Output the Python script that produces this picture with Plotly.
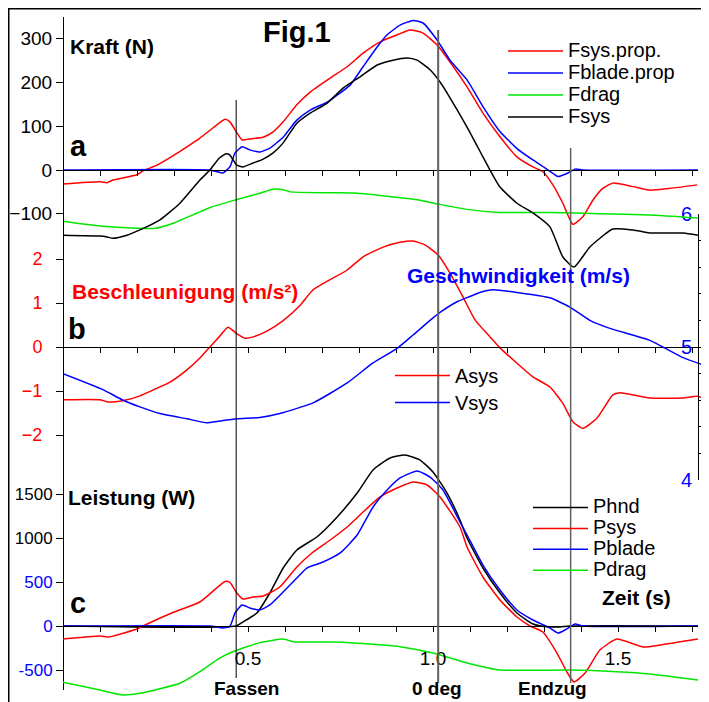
import plotly.graph_objects as go

FONT = "Liberation Sans, Arial, sans-serif"
RED, BLUE, GREEN, BLACK = "#ff0000", "#0000ff", "#00e600", "#000000"

# ---------------- data: panel a (force, N) ----------------
t_fsysprop = [0.000, 0.100, 0.119, 0.135, 0.200, 0.216, 0.254, 0.300, 0.335, 0.370, 0.405, 0.438, 0.451, 0.470,
              0.484, 0.505, 0.541, 0.568, 0.595, 0.632, 0.668, 0.722, 0.768, 0.811, 0.857, 0.903, 0.938, 0.973,
              1.011, 1.046, 1.092, 1.135, 1.181, 1.227, 1.270, 1.297, 1.324, 1.351, 1.378, 1.405, 1.432, 1.459,
              1.486, 1.541, 1.586, 1.641, 1.714]
fsysprop = [-32, -27, -29, -23, -11, -2, 11, 34, 53, 73, 96, 116, 110, 85,
            69, 71, 75, 87, 110, 149, 178, 210, 236, 267, 293, 309, 320, 313,
            286, 247, 190, 130, 76, 30, 7, -4, -34, -76, -124, -107, -69, -42,
            -30, -38, -46, -42, -34]

t_fblade = [0.000, 0.397, 0.416, 0.432, 0.451, 0.465, 0.484, 0.505, 0.532, 0.559, 0.595, 0.632, 0.668, 0.714,
            0.741, 0.776, 0.811, 0.849, 0.876, 0.911, 0.946, 0.973, 1.011, 1.046, 1.092, 1.135, 1.181, 1.227,
            1.270, 1.297, 1.316, 1.338, 1.362, 1.384, 1.405, 1.716]
fblade = [0, 0, -4, -7, 7, 39, 53, 46, 41, 50, 75, 114, 137, 155,
          171, 194, 236, 281, 309, 331, 342, 336, 297, 251, 206, 145, 88, 49,
          23, 8, -3, -15, -8, 2, 0, 0]

t_fdrag = [0.000, 0.100, 0.200, 0.250, 0.300, 0.400, 0.468, 0.532, 0.568, 0.595, 0.614, 0.730, 0.797, 0.957,
           1.014, 1.092, 1.181, 1.316, 1.451, 1.586, 1.716]
fdrag = [-117, -128, -133, -133, -121, -85, -68, -53, -44, -45, -50, -52, -53, -68,
         -78, -90, -97, -97, -100, -103, -110]

t_fsys = [0.000, 0.100, 0.119, 0.135, 0.173, 0.208, 0.262, 0.316, 0.370, 0.397, 0.422, 0.441, 0.451, 0.470,
          0.486, 0.514, 0.541, 0.568, 0.595, 0.632, 0.668, 0.714, 0.757, 0.803, 0.849, 0.892, 0.930, 0.957,
          0.992, 1.019, 1.046, 1.092, 1.135, 1.154, 1.181, 1.227, 1.270, 1.316, 1.351, 1.381, 1.424, 1.486,
          1.541, 1.586, 1.676, 1.716]
fsys = [-149, -151, -153, -156, -149, -137, -114, -76, -23, 0, 27, 37, 34, 11,
        7, 16, 25, 39, 62, 107, 130, 153, 187, 213, 240, 251, 256, 251,
        229, 201, 165, 98, 30, 0, -39, -76, -98, -130, -199, -222, -176, -135,
        -137, -144, -144, -149]

# ---------------- data: panel b (acceleration m/s², velocity m/s) ----------------
t_asys = [0.000, 0.100, 0.122, 0.135, 0.173, 0.208, 0.243, 0.289, 0.335, 0.370, 0.397, 0.422, 0.446, 0.470,
          0.492, 0.514, 0.551, 0.595, 0.641, 0.676, 0.768, 0.811, 0.865, 0.911, 0.946, 0.978, 1.014, 1.046,
          1.081, 1.114, 1.154, 1.181, 1.227, 1.270, 1.316, 1.351, 1.378, 1.405, 1.443, 1.486, 1.505, 1.586,
          1.676, 1.714, 1.746]
asys = [-1.20, -1.20, -1.25, -1.25, -1.20, -1.11, -0.98, -0.80, -0.52, -0.25, 0.0, 0.23, 0.45, 0.30,
        0.20, 0.23, 0.36, 0.60, 0.95, 1.30, 1.75, 2.05, 2.27, 2.38, 2.41, 2.32, 2.09, 1.68,
        1.14, 0.61, 0.23, -0.02, -0.37, -0.68, -0.91, -1.28, -1.70, -1.85, -1.62, -1.09, -1.04, -1.16,
        -1.16, -1.12, -1.20]

t_vsys = [0.000, 0.108, 0.162, 0.208, 0.262, 0.335, 0.389, 0.416, 0.470, 0.532, 0.586, 0.676, 0.768, 0.838,
          0.903, 0.946, 0.992, 1.019, 1.065, 1.100, 1.127, 1.162, 1.227, 1.316, 1.370, 1.424, 1.478, 1.586,
          1.676, 1.746]
vsys = [4.80, 4.68, 4.60, 4.55, 4.50, 4.46, 4.43, 4.44, 4.46, 4.47, 4.50, 4.58, 4.73, 4.88,
        4.99, 5.09, 5.20, 5.26, 5.34, 5.38, 5.41, 5.43, 5.41, 5.37, 5.30, 5.20, 5.14, 5.05,
        4.92, 4.85]

# ---------------- data: panel c (power, W) ----------------
t_phnd = [0.000, 0.468, 0.486, 0.524, 0.559, 0.595, 0.632, 0.686, 0.741, 0.795, 0.838, 0.884, 0.924, 0.965,
          1.000, 1.038, 1.073, 1.092, 1.135, 1.181, 1.227, 1.270, 1.316, 1.343, 1.370, 1.716]
phnd = [0, 0, 45, 148, 375, 659, 864, 1011, 1239, 1511, 1773, 1909, 1943, 1886,
        1750, 1511, 1205, 1000, 659, 375, 148, 23, -11, -11, 0, 0]

t_psys = [0.000, 0.100, 0.119, 0.135, 0.200, 0.216, 0.300, 0.370, 0.438, 0.451, 0.470, 0.486, 0.514, 0.541,
          0.586, 0.632, 0.676, 0.722, 0.768, 0.811, 0.857, 0.903, 0.946, 0.984, 1.019, 1.073, 1.092, 1.135,
          1.181, 1.227, 1.262, 1.297, 1.335, 1.362, 1.381, 1.411, 1.451, 1.497, 1.568, 1.614, 1.716]
psys = [-148, -114, -125, -115, -34, 0, 159, 273, 505, 495, 375, 307, 330, 341,
        443, 670, 841, 977, 1125, 1295, 1466, 1568, 1636, 1602, 1466, 1125, 897, 557,
        295, 102, 0, -68, -307, -523, -636, -534, -273, -148, -239, -216, -148]

t_pblade = [0.000, 0.397, 0.414, 0.430, 0.451, 0.465, 0.484, 0.505, 0.532, 0.559, 0.595, 0.632, 0.659, 0.703,
            0.749, 0.795, 0.838, 0.876, 0.911, 0.957, 0.992, 1.027, 1.073, 1.092, 1.135, 1.181, 1.227, 1.270,
            1.316, 1.338, 1.357, 1.384, 1.405, 1.716]
pblade = [0, 0, -10, -23, -5, 148, 239, 205, 182, 239, 386, 545, 659, 727,
          830, 1034, 1352, 1545, 1682, 1761, 1693, 1545, 1182, 1034, 693, 409, 182, 68,
          -23, -80, -45, 23, 0, 0]

t_pdrag = [0.000, 0.100, 0.162, 0.208, 0.316, 0.370, 0.422, 0.459, 0.532, 0.595, 0.622, 0.730, 0.776, 0.865,
           0.911, 1.000, 1.092, 1.181, 1.370, 1.497, 1.586, 1.716]
pdrag = [-640, -727, -784, -765, -651, -519, -367, -292, -189, -148, -178, -182, -189, -216,
         -235, -307, -420, -500, -500, -519, -545, -614]

# ---------------- ticks / events ----------------
force_ticks = [-100, 0, 100, 200, 300]
acc_ticks = [-2, -1, 0, 1, 2]
vel_ticks = [4, 5, 6]
power_ticks = [-500, 0, 500, 1000, 1500]
power_tick_colors = [BLUE, BLUE, BLUE, BLACK, BLACK]
time_ticks = [round(0.1 * i, 1) for i in range(18)]
time_labels = {0.5: "0.5", 1.0: "1.0", 1.5: "1.5"}
event_t = [0.468, 1.014, 1.372]
event_names = ["Fassen", "0 deg", "Endzug"]
event_label_t = [0.497, 1.011, 1.324]

# ---------------- geometry (window pixels; page body has an 8px margin) ----------------
OFF = 8
W, H = 709 - OFF, 702 - OFF
def px(p):  # window pixel x -> paper
    return (p - OFF) / W
def py(p):  # window pixel y -> paper
    return (702 - p) / H

X0, XR1, XR2 = 63, 698, 709
SEC = 370.0  # px per second

fig = go.Figure()
lw = 1.5
def add(t, v, name, color, xa, ya, leg, fs):
    fig.add_trace(go.Scatter(x=t, y=v, name=f'<span style="font-size:{fs}px">{name}</span>', mode="lines",
                             line=dict(color=color, width=lw, shape="spline", smoothing=0.5),
                             xaxis=xa, yaxis=ya, legend=leg))

add(t_fsysprop, fsysprop, "Fsys.prop.", RED, "x2", "y", "legend", 20)
add(t_fblade, fblade, "Fblade.prop", BLUE, "x2", "y", "legend", 20)
add(t_fdrag, fdrag, "Fdrag", GREEN, "x2", "y", "legend", 20)
add(t_fsys, fsys, "Fsys", BLACK, "x2", "y", "legend", 20)
add(t_asys, asys, "Asys", RED, "x", "y2", "legend2", 20)
add(t_vsys, vsys, "Vsys", BLUE, "x", "y3", "legend2", 20)
add(t_phnd, phnd, "Phnd", BLACK, "x3", "y4", "legend3", 20)
add(t_psys, psys, "Psys", RED, "x3", "y4", "legend3", 20)
add(t_pblade, pblade, "Pblade", BLUE, "x3", "y4", "legend3", 20)
add(t_pdrag, pdrag, "Pdrag", GREEN, "x3", "y4", "legend3", 20)

xcommon = dict(anchor="free", showline=True, linecolor="black", linewidth=1, ticks="outside",
               ticklen=5, tickcolor="black", tickwidth=1, showgrid=False, zeroline=False,
               automargin=False)
rng_full = [0, (XR2 - X0) / SEC]
rng_short = [0, (XR1 - X0) / SEC]
dom_full = [px(X0), 1]
dom_short = [px(X0), px(XR1)]

ycommon = dict(anchor="free", position=px(X0), showgrid=False, zeroline=False, ticks="outside",
               ticklen=7, tickcolor="black", automargin=False)

F0, FS = 170, 0.4375       # force zero px, px per N
A0, AS = 347, 44.0         # accel zero px, px per m/s²
P0, PS = 626, 0.088        # power zero px, px per W
ftop, fbot = 17, 690
TOP, BOT = 8, 702

fig.update_layout(
    width=W, height=H, template="none",
    margin=dict(l=0, r=0, t=0, b=0),
    paper_bgcolor="white", plot_bgcolor="rgba(0,0,0,0)",
    font=dict(family=FONT, size=18, color="black"),
    xaxis=dict(**xcommon, domain=dom_full, range=rng_full, position=py(A0),
               tickvals=time_ticks, showticklabels=False),
    xaxis2=dict(**xcommon, domain=dom_short, range=rng_short, position=py(F0),
                tickvals=time_ticks, showticklabels=False),
    xaxis3=dict(**xcommon, domain=dom_short, range=rng_short, position=py(P0),
                tickvals=time_ticks, ticktext=[time_labels.get(v, "") for v in time_ticks],
                tickfont=dict(size=19, color="black"), ticklabelstandoff=10),
    yaxis=dict(**ycommon, domain=[py(fbot), py(ftop)],
               range=[(F0 - fbot) / FS, (F0 - ftop) / FS],
               showline=True, linecolor="black", linewidth=1.2,
               tickvals=force_ticks, tickfont=dict(size=19, color="black")),
    yaxis2=dict(**ycommon, domain=[0, 1], range=[(A0 - BOT) / AS, (A0 - TOP) / AS],
                tickvals=acc_ticks, tickfont=dict(size=18, color=RED), ticklabelstandoff=10),
    yaxis3=dict(anchor="free", position=px(XR1), side="left", domain=[py(480), py(214)],
                range=[4, 6], showgrid=False, zeroline=False, showline=True, linecolor="black",
                linewidth=1, ticks="inside", ticklen=5, tickcolor="black", tickvals=vel_ticks,
                tickfont=dict(size=20, color=BLUE), ticklabelstandoff=2,
                minor=dict(dtick=0.2, tick0=4, ticks="inside", ticklen=5, tickcolor="black"),
                automargin=False),
    yaxis4=dict(**ycommon, domain=[0, 1], range=[(P0 - BOT) / PS, (P0 - TOP) / PS],
                tickvals=power_ticks,
                ticktext=[f'<span style="color:{c}">{v}</span>' for v, c in zip(power_ticks, power_tick_colors)],
                tickfont=dict(size=17)),
    legend=dict(x=px(503), y=py(35), xanchor="left", yanchor="top", bgcolor="rgba(0,0,0,0)",
                font=dict(size=14.6), itemwidth=55, tracegroupgap=0),
    legend2=dict(x=px(390), y=py(357), xanchor="left", yanchor="top", bgcolor="rgba(0,0,0,0)",
                 font=dict(size=18.5), itemwidth=55, tracegroupgap=0),
    legend3=dict(x=px(528), y=py(492), xanchor="left", yanchor="top", bgcolor="rgba(0,0,0,0)",
                 font=dict(size=13.8), itemwidth=55, tracegroupgap=0),
    showlegend=True,
)

# outer frame (top and left edges of the figure)
fig.add_shape(type="line", xref="paper", yref="paper", x0=0, x1=1.05, y0=1, y1=1,
              line=dict(color="black", width=3))
fig.add_shape(type="line", xref="paper", yref="paper", x0=0, x1=0, y0=-0.05, y1=1,
              line=dict(color="black", width=3))

# event lines
ev_style = [dict(color="black", width=1), dict(color="#606060", width=2), dict(color="#606060", width=1.5)]
ev_top = [100, 30, 148]
ev_bot = [678, 683, 683]
for t, top, bot, st in zip(event_t, ev_top, ev_bot, ev_style):
    fig.add_shape(type="line", xref="x", yref="paper", x0=t, x1=t, y0=py(bot), y1=py(top), line=st)

for t, name in zip(event_label_t, event_names):
    fig.add_annotation(x=t, xref="x", y=py(688), yref="paper", text=f"<b>{name}</b>", showarrow=False,
                       xanchor="center", yanchor="middle", font=dict(size=19, color="black"))

def label(x, y, text, size, color="black", bold=True):
    fig.add_annotation(x=px(x), y=py(y), xref="paper", yref="paper", text=f"<b>{text}</b>" if bold else text,
                       showarrow=False, xanchor="left", yanchor="middle", font=dict(size=size, color=color))

label(261, 32, "Fig.1", 29)
label(68, 47, "Kraft (N)", 21)
label(68, 146, "a", 29)
label(70, 291, "Beschleunigung (m/s²)", 21, RED)
label(405, 275, "Geschwindigkeit (m/s)", 21, BLUE)
label(66, 329, "b", 29)
label(66, 498, "Leistung (W)", 21)
label(68, 603, "c", 29)
label(600, 597, "Zeit (s)", 21)

fig.write_html("out.html")
